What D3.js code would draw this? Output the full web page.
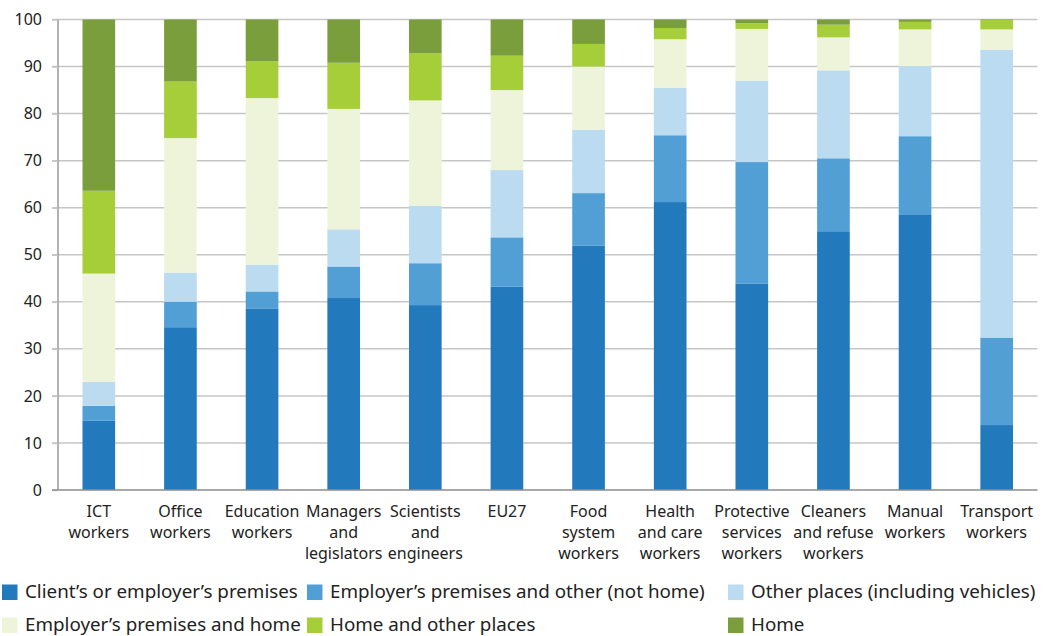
<!DOCTYPE html>
<html>
<head>
<meta charset="utf-8">
<script src="https://cdn.jsdelivr.net/npm/d3@7"></script>
<style>
  html, body { margin: 0; padding: 0; background: #fff; }
  svg { display: block; font-family: "Noto Sans", sans-serif; }
</style>
</head>
<body>
<svg id="chart" width="1057" height="636"></svg>
<script>
const categories = [
  ["ICT", "workers"],
  ["Office", "workers"],
  ["Education", "workers"],
  ["Managers", "and", "legislators"],
  ["Scientists", "and", "engineers"],
  ["EU27"],
  ["Food", "system", "workers"],
  ["Health", "and care", "workers"],
  ["Protective", "services", "workers"],
  ["Cleaners", "and refuse", "workers"],
  ["Manual", "workers"],
  ["Transport", "workers"]
];
const seriesNames = [
  "Client\u2019s or employer\u2019s premises",
  "Employer\u2019s premises and other (not home)",
  "Other places (including vehicles)",
  "Employer\u2019s premises and home",
  "Home and other places",
  "Home"
];
const clientPremises   = [14.7, 34.6, 38.6, 40.8, 39.3, 43.2, 51.9, 61.2, 43.9, 55.0, 58.6, 13.8];
const employerOther    = [ 3.2,  5.4,  3.6,  6.7,  8.9, 10.5, 11.2, 14.2, 25.8, 15.5, 16.6, 18.6];
const otherPlaces      = [ 5.1,  6.2,  5.7,  7.9, 12.2, 14.3, 13.5, 10.1, 17.3, 18.7, 14.9, 61.2];
const employerHome     = [23.0, 28.6, 35.4, 25.6, 22.4, 17.0, 13.4, 10.3, 11.0,  7.0,  7.8,  4.3];
const homeOther        = [17.6, 12.0,  7.8,  9.8, 10.0,  7.3,  4.8,  2.4,  1.2,  2.7,  1.6,  2.0];
const homeOnly         = [36.4, 13.2,  8.9,  9.2,  7.2,  7.7,  5.2,  1.8,  0.8,  1.1,  0.5,  0.1];
const yTicks = [0, 10, 20, 30, 40, 50, 60, 70, 80, 90, 100];
const colors = ["#2279bc", "#529fd6", "#bbdbf1", "#eef4da", "#a6ce39", "#7b9e3c"];

const seriesValues = [clientPremises, employerOther, otherPlaces, employerHome, homeOther, homeOnly];
const keys = seriesNames;
const rows = categories.map((c, i) => {
  const r = { cat: c.join(" ") };
  keys.forEach((k, j) => r[k] = seriesValues[j][i]);
  return r;
});
const stacked = d3.stack().keys(keys)(rows);

const svg = d3.select("#chart");
const x = d3.scaleBand().domain(rows.map(r => r.cat)).range([58, 1037.5]).paddingInner(0.6).paddingOuter(0.3);
const y = d3.scaleLinear().domain([0, 100]).range([490, 19.5]);

// gridlines
svg.append("g").selectAll("line").data(yTicks.filter(t => t > 0)).join("line")
  .attr("x1", 52).attr("x2", 1037.5)
  .attr("y1", d => y(d)).attr("y2", d => y(d))
  .attr("stroke", "#c6c6c6").attr("stroke-width", 1.5);

// bars
svg.append("g").selectAll("g").data(stacked).join("g")
  .attr("fill", (d, i) => colors[i])
  .selectAll("rect").data(d => d).join("rect")
  .attr("x", d => x(d.data.cat))
  .attr("width", x.bandwidth())
  .attr("y", d => y(d[1]))
  .attr("height", d => Math.max(0, y(d[0]) - y(d[1])));

// y axis
const yAxis = svg.append("g").attr("transform", "translate(58,0)")
  .call(d3.axisLeft(y).tickValues(yTicks).tickSize(6).tickPadding(10));
yAxis.select(".domain").attr("stroke", "#9a9a9a").attr("stroke-width", 1.5).attr("d", `M0,${y(100)}V${y(0)}`);
yAxis.selectAll(".tick line").attr("stroke", "#c6c6c6").attr("stroke-width", 1.5);
yAxis.selectAll(".tick text").attr("font-size", 16).attr("fill", "#222").attr("font-family", "Noto Sans");

// x axis baseline
svg.append("line").attr("x1", 52).attr("x2", 1037.5).attr("y1", y(0)).attr("y2", y(0))
  .attr("stroke", "#8c8c8c").attr("stroke-width", 1.5);

// x labels
const xl = svg.append("g").selectAll("text").data(categories).join("text")
  .attr("x", (d, i) => x(rows[i].cat) + x.bandwidth() / 2)
  .attr("y", 517)
  .attr("text-anchor", "middle")
  .attr("font-size", 16)
  .attr("fill", "#222");
xl.selectAll("tspan").data(d => d).join("tspan")
  .attr("x", function() { return d3.select(this.parentNode).attr("x"); })
  .attr("dy", (d, i) => i === 0 ? 0 : 21)
  .text(d => d);

// legend
const legendPos = [
  [2, 592], [307, 592], [728, 592],
  [2, 625], [307, 625], [728, 625]
];
const lg = svg.append("g").selectAll("g").data(seriesNames).join("g")
  .attr("transform", (d, i) => `translate(${legendPos[i][0]},${legendPos[i][1]})`);
lg.append("rect").attr("x", 0).attr("y", -7.5).attr("width", 15.5).attr("height", 15.5)
  .attr("fill", (d, i) => colors[i]);
lg.append("text").attr("x", 23).attr("y", 6).attr("font-size", 18.8).attr("fill", "#222").text(d => d);
</script>
</body>
</html>
